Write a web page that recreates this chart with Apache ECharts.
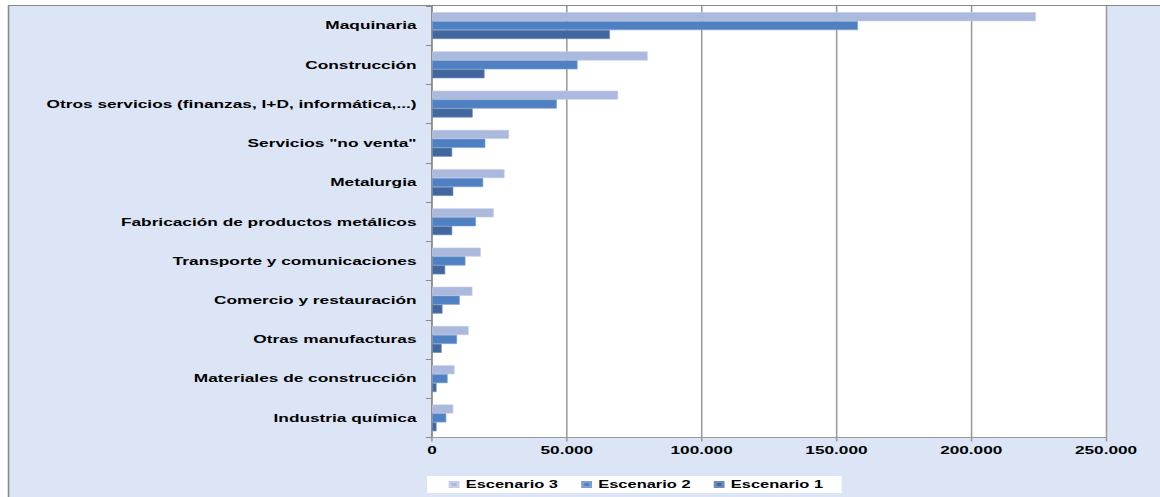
<!DOCTYPE html>
<html>
<head>
<meta charset="utf-8">
<script src="https://cdn.jsdelivr.net/npm/echarts@6/dist/echarts.min.js"></script>
<style>
  html, body { margin: 0; padding: 0; background: #ffffff; overflow: hidden; }
  /* The chart is laid out narrow and widened horizontally, giving the broad lettering */
  #chart { width: 748px; height: 497px; transform: scaleX(1.5508); transform-origin: 0 0; }
</style>
</head>
<body>
<div id="chart"></div>
<script>
const categories = [
  'Maquinaria',
  'Construcción',
  'Otros servicios (finanzas, I+D, informática,...)',
  'Servicios "no venta"',
  'Metalurgia',
  'Fabricación de productos metálicos',
  'Transporte y comunicaciones',
  'Comercio y restauración',
  'Otras manufacturas',
  'Materiales de construcción',
  'Industria química'
];
const escenario3 = [224000, 80000, 69000, 28600, 26900, 22900, 18100, 15000, 13600, 8400, 7900];
const escenario2 = [158000, 54000, 46300, 19800, 19000, 16300, 12400, 10300, 9300, 5800, 5300];
const escenario1 = [66000, 19500, 15100, 7500, 7900, 7500, 4900, 3900, 3600, 1700, 1700];
const xTicks = [0, 50000, 100000, 150000, 200000, 250000];

const FONT = '"Liberation Sans", Arial, sans-serif';
const fmt = v => String(v).replace(/\B(?=(\d{3})+(?!\d))/g, '.');

const chart = echarts.init(document.getElementById('chart'), null, { renderer: 'svg' });

const barSeries = (name, data, color, edge) => ({
  name: name,
  type: 'bar',
  data: data,
  barGap: '0%',
  barCategoryGap: '32%',
  itemStyle: { color: color, borderColor: edge, borderWidth: 0.5 },
  emphasis: { disabled: true },
  animation: false
});

chart.setOption({
  animation: false,
  graphic: [{
    type: 'rect',
    z: -100,
    silent: true,
    shape: { x: 5.5, y: 5.5, width: 800, height: 600 },
    style: { fill: '#dce5f5', stroke: '#8a8a8a', lineWidth: 1 }
  }],
  grid: {
    left: 278.6, right: 34.8, top: 6, height: 431.5,
    show: true, backgroundColor: '#ffffff', borderWidth: 0,
    containLabel: false
  },
  legend: {
    data: ['Escenario 3', 'Escenario 2', 'Escenario 1'],
    left: 275.3, top: 476,
    padding: [3, 12, 3, 14],
    backgroundColor: '#ffffff',
    icon: 'rect', itemWidth: 5, itemHeight: 5, itemGap: 15,
    textStyle: { fontFamily: FONT, fontWeight: 'bold', fontSize: 10.6, color: '#000000' }
  },
  xAxis: {
    type: 'value',
    min: xTicks[0], max: xTicks[xTicks.length - 1], interval: 50000,
    axisLine: { show: true, lineStyle: { color: '#9a9a9a', width: 1 } },
    axisTick: { show: true, length: 4, lineStyle: { color: '#9a9a9a' } },
    splitLine: { show: true, lineStyle: { color: '#9a9a9a', width: 1 } },
    axisLabel: {
      margin: 7, fontFamily: FONT, fontWeight: 'bold', fontSize: 11.1, color: '#000000',
      formatter: v => fmt(v)
    }
  },
  yAxis: {
    type: 'category',
    inverse: true,
    data: categories,
    axisLine: { show: true, lineStyle: { color: '#8a8a8a', width: 1 } },
    axisTick: { show: true, length: 4, lineStyle: { color: '#8a8a8a' } },
    axisLabel: { margin: 10, fontFamily: FONT, fontWeight: 'bold', fontSize: 11.15, color: '#000000' }
  },
  series: [
    barSeries('Escenario 3', escenario3, '#abb9dd', '#c3cde8'),
    barSeries('Escenario 2', escenario2, '#4f81c2', '#7c9fd2'),
    barSeries('Escenario 1', escenario1, '#42679f', '#6f8cb8')
  ]
});
</script>
</body>
</html>
